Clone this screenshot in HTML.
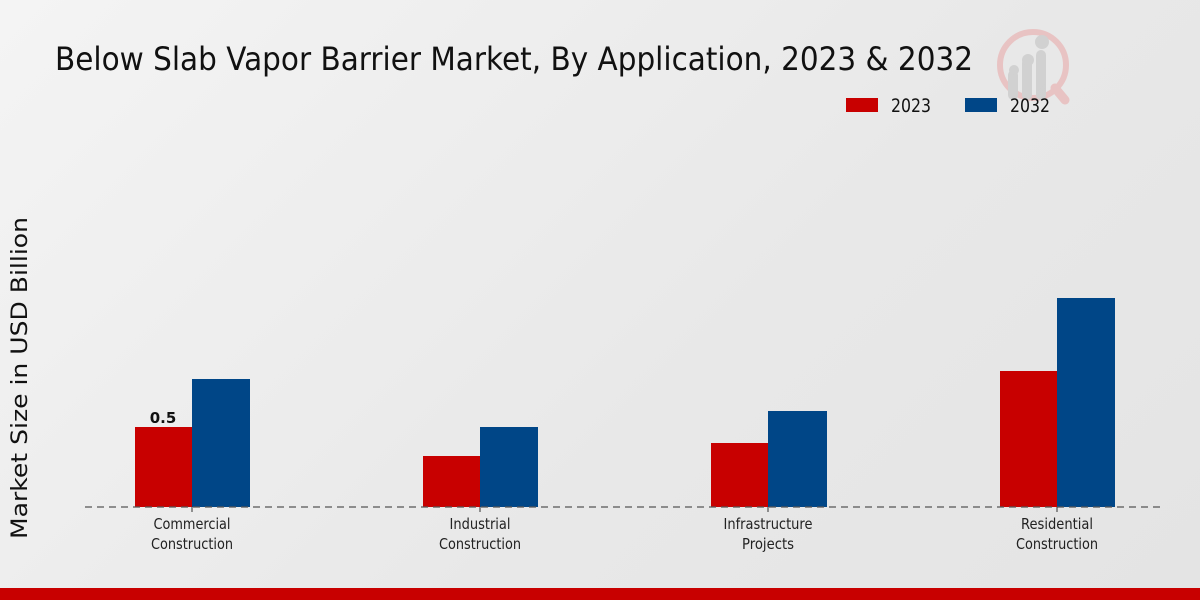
<!DOCTYPE html>
<html><head><style>
html,body{margin:0;padding:0;}
body{width:1200px;height:600px;overflow:hidden;background:linear-gradient(135deg,#f4f4f4 0%,#e8e8e8 60%,#e4e4e4 100%);}
svg{display:block;font-family:"DejaVu Sans","Liberation Sans",sans-serif;}
</style></head><body>
<svg width="1200" height="600" viewBox="0 0 1200 600" xmlns="http://www.w3.org/2000/svg">
<text x="55" y="70" font-size="32" textLength="918" lengthAdjust="spacingAndGlyphs" fill="#111">Below Slab Vapor Barrier Market, By Application, 2023 &amp; 2032</text>
<g opacity="0.5">
<circle cx="1033" cy="65" r="33" fill="none" stroke="#e8a0a0" stroke-width="6"/>
<line x1="1055" y1="88" x2="1065" y2="100" stroke="#e8a0a0" stroke-width="9" stroke-linecap="round"/>
<rect x="1008" y="70" width="10" height="30" rx="5" fill="#bbb"/>
<rect x="1022" y="58" width="10" height="42" rx="5" fill="#bbb"/>
<rect x="1036" y="50" width="10" height="50" rx="5" fill="#bbb"/>
<circle cx="1014" cy="70" r="5" fill="#bbb"/><circle cx="1028" cy="60" r="6" fill="#bbb"/><circle cx="1042" cy="42" r="7" fill="#bbb"/>
</g>
<rect x="846" y="98" width="32" height="14" fill="#c80000"/>
<text x="891" y="112" font-size="19" textLength="40" lengthAdjust="spacingAndGlyphs" fill="#111">2023</text>
<rect x="965" y="98" width="32" height="14" fill="#004687"/>
<text x="1010" y="112" font-size="19" textLength="40" lengthAdjust="spacingAndGlyphs" fill="#111">2032</text>
<text transform="translate(27,378) rotate(-90)" text-anchor="middle" font-size="22" fill="#111" textLength="322" lengthAdjust="spacingAndGlyphs">Market Size in USD Billion</text>
<rect x="135" y="427" width="57" height="80" fill="#c80000"/>
<rect x="192" y="379" width="58" height="128" fill="#004687"/>
<rect x="423" y="456" width="57" height="51" fill="#c80000"/>
<rect x="480" y="427" width="58" height="80" fill="#004687"/>
<rect x="711" y="443" width="57" height="64" fill="#c80000"/>
<rect x="768" y="411" width="59" height="96" fill="#004687"/>
<rect x="1000" y="371" width="57" height="136" fill="#c80000"/>
<rect x="1057" y="298" width="58" height="209" fill="#004687"/>
<text x="163" y="423" font-size="15" font-weight="bold" text-anchor="middle" fill="#111">0.5</text>
<line x1="85" y1="507" x2="1165" y2="507" stroke="#555" stroke-width="1.2" stroke-dasharray="7,5"/>
<g stroke="#333"><line x1="192" y1="507" x2="192" y2="512"/><line x1="480" y1="507" x2="480" y2="512"/><line x1="768" y1="507" x2="768" y2="512"/><line x1="1057" y1="507" x2="1057" y2="512"/></g>
<g font-size="15" text-anchor="middle" fill="#222" lengthAdjust="spacingAndGlyphs">
<text x="192" y="529" textLength="77" lengthAdjust="spacingAndGlyphs">Commercial</text><text x="192" y="549" textLength="82" lengthAdjust="spacingAndGlyphs">Construction</text>
<text x="480" y="529" textLength="61" lengthAdjust="spacingAndGlyphs">Industrial</text><text x="480" y="549" textLength="82" lengthAdjust="spacingAndGlyphs">Construction</text>
<text x="768" y="529" textLength="89" lengthAdjust="spacingAndGlyphs">Infrastructure</text><text x="768" y="549" textLength="52" lengthAdjust="spacingAndGlyphs">Projects</text>
<text x="1057" y="529" textLength="72" lengthAdjust="spacingAndGlyphs">Residential</text><text x="1057" y="549" textLength="82" lengthAdjust="spacingAndGlyphs">Construction</text>
</g>
<rect x="0" y="588" width="1200" height="12" fill="#c80000"/>
</svg>
</body></html>
